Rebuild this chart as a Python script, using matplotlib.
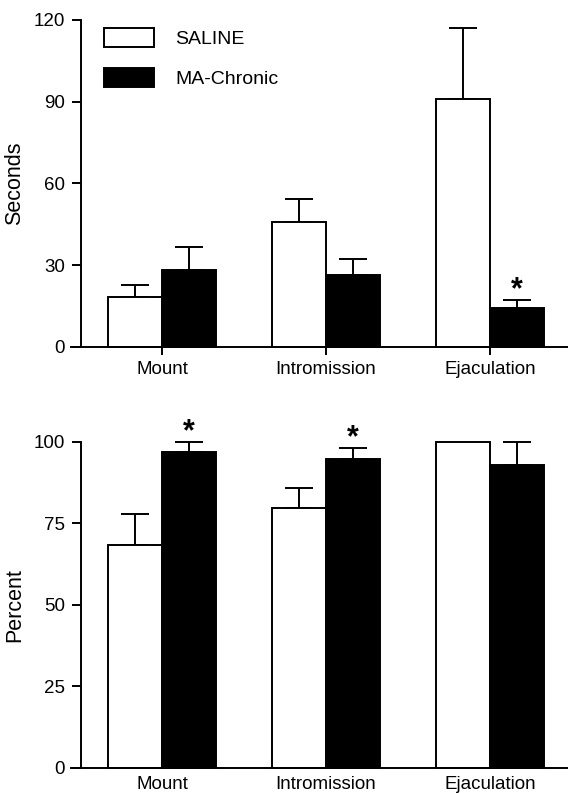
import matplotlib.pyplot as plt
import numpy as np

plt.rcParams['font.family'] = ['Liberation Sans', 'DejaVu Sans']

categories = ['Mount', 'Intromission', 'Ejaculation']
groups = ['SALINE', 'MA-Chronic']

# latency (seconds)
sec_saline = [18.4, 45.9, 90.9]
sec_saline_err = [4.3, 8.5, 26.0]
sec_chronic = [28.3, 26.4, 14.2]
sec_chronic_err = [8.3, 5.9, 3.0]
sec_sig = [False, False, True]

# percent responding
pct_saline = [68.2, 79.6, 100.0]
pct_saline_err = [9.5, 6.3, 0.0]
pct_chronic = [96.7, 94.6, 93.0]
pct_chronic_err = [3.3, 3.4, 7.0]
pct_sig = [True, True, False]

W, H = 568, 793
fig = plt.figure(figsize=(W / 100, H / 100), dpi=100)

x = np.arange(len(categories))
bw = 0.332
fs = 13.5
lw = 1.4


def panel(ax, sal, sal_err, chr_, chr_err, sig, ymax, yticks, ylabel, star_off):
    ax.bar(x - bw / 2, sal, bw, color='white', edgecolor='black', linewidth=lw, zorder=2)
    ax.bar(x + bw / 2, chr_, bw, color='black', edgecolor='black', linewidth=lw, zorder=2)
    for xi, v, e in zip(x - bw / 2, sal, sal_err):
        if e > 0:
            ax.errorbar(xi, v, yerr=[[0], [e]], color='black', capsize=10,
                        elinewidth=lw, capthick=lw, zorder=1)
    for xi, v, e, s in zip(x + bw / 2, chr_, chr_err, sig):
        if e > 0:
            ax.errorbar(xi, v, yerr=[[0], [e]], color='black', capsize=10,
                        elinewidth=lw, capthick=lw, zorder=1)
        if s:
            ax.text(xi, v + e + star_off, '*', ha='center', va='center',
                    fontsize=22, fontweight='bold')
    ax.set_xlim(-0.555, 2.476)
    ax.set_ylim(0, ymax)
    ax.set_yticks(yticks)
    ax.set_xticks(x)
    ax.set_xticklabels(categories)
    ax.spines['top'].set_visible(False)
    ax.spines['right'].set_visible(False)
    ax.spines['left'].set_position(('data', -0.494))
    ax.spines['left'].set_linewidth(lw)
    ax.spines['bottom'].set_linewidth(lw)
    ax.tick_params(axis='y', length=6.5, width=lw, labelsize=fs, pad=5)
    ax.tick_params(axis='x', length=6, width=lw, labelsize=fs, pad=4)
    ax.set_ylabel(ylabel, fontsize=15.5, labelpad=6)


ax1 = fig.add_axes([71 / W, 1 - 346.7 / H, 1 - 71 / W, (346.7 - 20) / H])
panel(ax1, sec_saline, sec_saline_err, sec_chronic, sec_chronic_err, sec_sig,
      120, [0, 30, 60, 90, 120], 'Seconds', 3.5)
ax1.legend(groups, loc='upper left', bbox_to_anchor=((104 - 71) / (W - 71), 0.975),
           frameon=False, fontsize=fs + 0.5, handlelength=2.55, handleheight=1.15,
           labelspacing=1.0, handletextpad=1.1, borderpad=0, borderaxespad=0)

ax2 = fig.add_axes([71 / W, 1 - 767.7 / H, 1 - 71 / W, (767.7 - 441.7) / H])
panel(ax2, pct_saline, pct_saline_err, pct_chronic, pct_chronic_err, pct_sig,
      100, [0, 25, 50, 75, 100], 'Percent', 3.0)
ax2.tick_params(axis='x', length=0, pad=6)
for a in (ax1, ax2):
    for child in a.get_children():
        child.set_clip_on(False)

fig.savefig('out.png', dpi=100)
